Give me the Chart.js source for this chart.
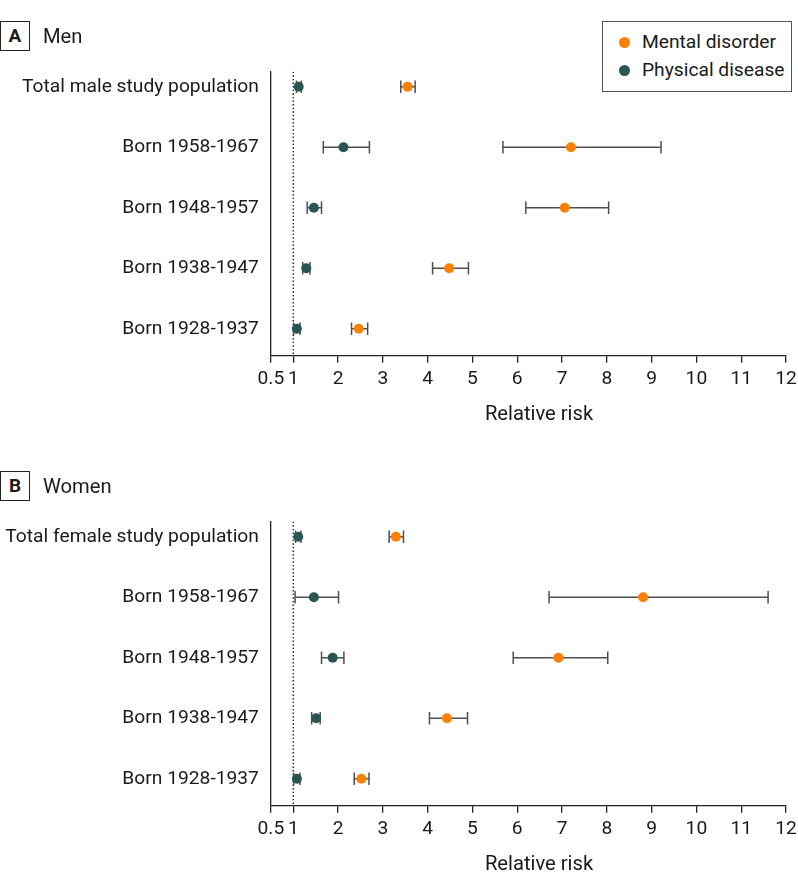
<!DOCTYPE html>
<html>
<head>
<meta charset="utf-8">
<script src="https://cdn.jsdelivr.net/npm/chart.js@4.4.1/dist/chart.umd.min.js"></script>
<style>
  html, body { margin: 0; padding: 0; background: #fff; }
  body { width: 798px; height: 893px; position: relative; overflow: hidden; font-family: 'Roboto', sans-serif; color: #1a1a1a; }
  .panel { position: absolute; left: 0; width: 798px; }
  .panel canvas { display: block; }
  .tag { position: absolute; left: 0; width: 28px; height: 28px; border: 1.5px solid #222; font-weight: bold; font-size: 19px; line-height: 28px; text-align: center; background: #fff; }
  .ptitle { position: absolute; left: 43px; font-size: var(--fs-title, 20px); line-height: 30px; }
  .axtitle { position: absolute; width: 200px; margin-left: -100px; text-align: center; font-size: var(--fs-title, 19px); line-height: 24px; }
  .legend { position: absolute; left: 602px; top: 21px; width: 188px; height: 69px; border: 1.5px solid #555; background: #fff; }
  .legend .item { position: absolute; left: 16px; font-size: var(--fs, 19px); line-height: 24px; white-space: nowrap; }
  .legend .dot { display: inline-block; width: 11px; height: 11px; border-radius: 50%; margin-right: 12px; vertical-align: 0px; }
</style>
</head>
<body>
<div class="panel" style="top:0;height:450px;"><canvas id="chartA" width="798" height="450"></canvas></div>
<div class="panel" style="top:450px;height:443px;"><canvas id="chartB" width="798" height="443"></canvas></div>

<div class="tag" style="top:21px;">A</div>
<div class="ptitle" style="top:21px;">Men</div>
<div class="tag" style="top:471px;">B</div>
<div class="ptitle" style="top:471px;">Women</div>
<div class="axtitle" style="left:539px;top:401px;">Relative risk</div>
<div class="axtitle" style="left:539px;top:851px;">Relative risk</div>

<div class="legend">
  <div class="item" style="top:8px;"><span class="dot" style="background:#FF8000"></span>Mental disorder</div>
  <div class="item" style="top:35.5px;"><span class="dot" style="background:#2B5552"></span>Physical disease</div>
</div>

<script>
// ---- data ----
const seriesNames = ['Mental disorder', 'Physical disease'];
const categoriesMen = ['Total male study population', 'Born 1958-1967', 'Born 1948-1957', 'Born 1938-1947', 'Born 1928-1937'];
const categoriesWomen = ['Total female study population', 'Born 1958-1967', 'Born 1948-1957', 'Born 1938-1947', 'Born 1928-1937'];

const menMental      = [3.55, 7.20, 7.06, 4.48, 2.46];
const menMentalLow   = [3.40, 5.68, 6.19, 4.11, 2.30];
const menMentalHigh  = [3.72, 9.21, 8.04, 4.91, 2.66];
const menPhysical     = [1.12, 2.12, 1.46, 1.29, 1.08];
const menPhysicalLow  = [1.07, 1.67, 1.31, 1.21, 1.01];
const menPhysicalHigh = [1.18, 2.70, 1.63, 1.37, 1.15];

const womenMental      = [3.29, 8.81, 6.92, 4.43, 2.52];
const womenMentalLow   = [3.14, 6.71, 5.91, 4.04, 2.36];
const womenMentalHigh  = [3.46, 11.60, 8.02, 4.89, 2.69];
const womenPhysical     = [1.11, 1.46, 1.88, 1.51, 1.08];
const womenPhysicalLow  = [1.05, 1.04, 1.63, 1.41, 1.01];
const womenPhysicalHigh = [1.17, 2.01, 2.13, 1.60, 1.15];

const xTickValues = [0.5, 1, 2, 3, 4, 5, 6, 7, 8, 9, 10, 11, 12];
const referenceValue = 1;

// ---- style ----
const COLORS = { mental: '#FF8000', physical: '#2B5552', whisker: '#4f4f4f', axis: '#222222', text: '#1a1a1a' };
const FONT = 'Roboto';
const X_MIN = 0.5, X_MAX = 12;
const Y_MIN = -0.248, Y_MAX = 4.446;

// fit the font size so the longest category label has the reference width (~237px)
const mctx = document.createElement('canvas').getContext('2d');
mctx.font = '21px ' + FONT;
let FS = 21 * 237 / mctx.measureText(categoriesMen[0]).width;
FS = Math.max(17, Math.min(22, FS));
document.body.style.setProperty('--fs', FS + 'px');
document.body.style.setProperty('--fs-title', (FS * 1.05) + 'px');

Chart.defaults.font.family = FONT;
Chart.defaults.color = COLORS.text;

function pts(values) { return values.map((v, i) => ({ x: v, y: i })); }
function ranges(lo, hi) { return lo.map((v, i) => ({ x: [v, hi[i]], y: i })); }
function caps(lo, hi) { return lo.map((v, i) => ({ x: v, y: i })).concat(hi.map((v, i) => ({ x: v, y: i }))); }

function makeChart(id, cats, mental, mLo, mHi, phys, pLo, pHi, canvasHeight) {
  const ctx = document.getElementById(id);
  const barDs = (lo, hi) => ({
    type: 'bar', indexAxis: 'y', grouped: false, data: ranges(lo, hi),
    backgroundColor: COLORS.whisker, borderWidth: 0, maxBarThickness: 1.5, order: 2
  });
  const capDs = (lo, hi) => ({
    type: 'scatter', data: caps(lo, hi), pointStyle: 'line', rotation: 90,
    pointRadius: 6.3, pointBorderWidth: 1.5, pointBorderColor: COLORS.whisker, order: 1
  });
  const dotDs = (label, vals, color) => ({
    type: 'scatter', label, data: pts(vals), pointRadius: 5, pointBackgroundColor: color,
    pointBorderWidth: 0, order: 0
  });
  return new Chart(ctx, {
    type: 'scatter',
    data: {
      datasets: [
        { type: 'scatter', data: [{ x: referenceValue, y: Y_MIN }, { x: referenceValue, y: Y_MAX }], showLine: true,
          borderColor: '#222', borderWidth: 1.5, borderDash: [1.4, 2.2], pointRadius: 0, order: 3 },
        barDs(mLo, mHi), barDs(pLo, pHi),
        capDs(mLo, mHi), capDs(pLo, pHi),
        dotDs(seriesNames[0], mental, COLORS.mental),
        dotDs(seriesNames[1], phys, COLORS.physical)
      ]
    },
    options: {
      responsive: false, animation: false, devicePixelRatio: 1,
      layout: { padding: { top: 71.7, right: 12, left: 0, bottom: 0 } },
      plugins: { legend: { display: false }, tooltip: { enabled: false } },
      scales: {
        x: {
          type: 'linear', min: X_MIN, max: X_MAX, offset: false,
          afterBuildTicks: (s) => { s.ticks = xTickValues.map(v => ({ value: v })); },
          afterFit: (s) => { s.height = canvasHeight - 355.7; s.paddingLeft = 0; s.paddingRight = 0; },
          ticks: { autoSkip: false, maxRotation: 0, minRotation: 0, padding: 5, font: { size: FS }, color: COLORS.text,
                   callback: (v) => String(v) },
          grid: { display: true, offset: false, drawOnChartArea: false, drawTicks: true, tickLength: 7, color: COLORS.axis, lineWidth: 1.3 },
          border: { display: true, color: COLORS.axis, width: 1.3 }
        },
        y: {
          type: 'linear', reverse: true, min: Y_MIN, max: Y_MAX, offset: false,
          afterBuildTicks: (s) => { s.ticks = cats.map((c, i) => ({ value: i })); },
          afterFit: (s) => { s.width = 270.9; s.paddingTop = 0; s.paddingBottom = 0; },
          ticks: { autoSkip: false, padding: 12, font: { size: FS }, color: COLORS.text,
                   callback: (v) => cats[v] },
          grid: { display: false, offset: false, drawTicks: false },
          border: { display: true, color: COLORS.axis, width: 1.3 }
        }
      }
    }
  });
}

makeChart('chartA', categoriesMen, menMental, menMentalLow, menMentalHigh, menPhysical, menPhysicalLow, menPhysicalHigh, 450);
makeChart('chartB', categoriesWomen, womenMental, womenMentalLow, womenMentalHigh, womenPhysical, womenPhysicalLow, womenPhysicalHigh, 443);
</script>
</body>
</html>
